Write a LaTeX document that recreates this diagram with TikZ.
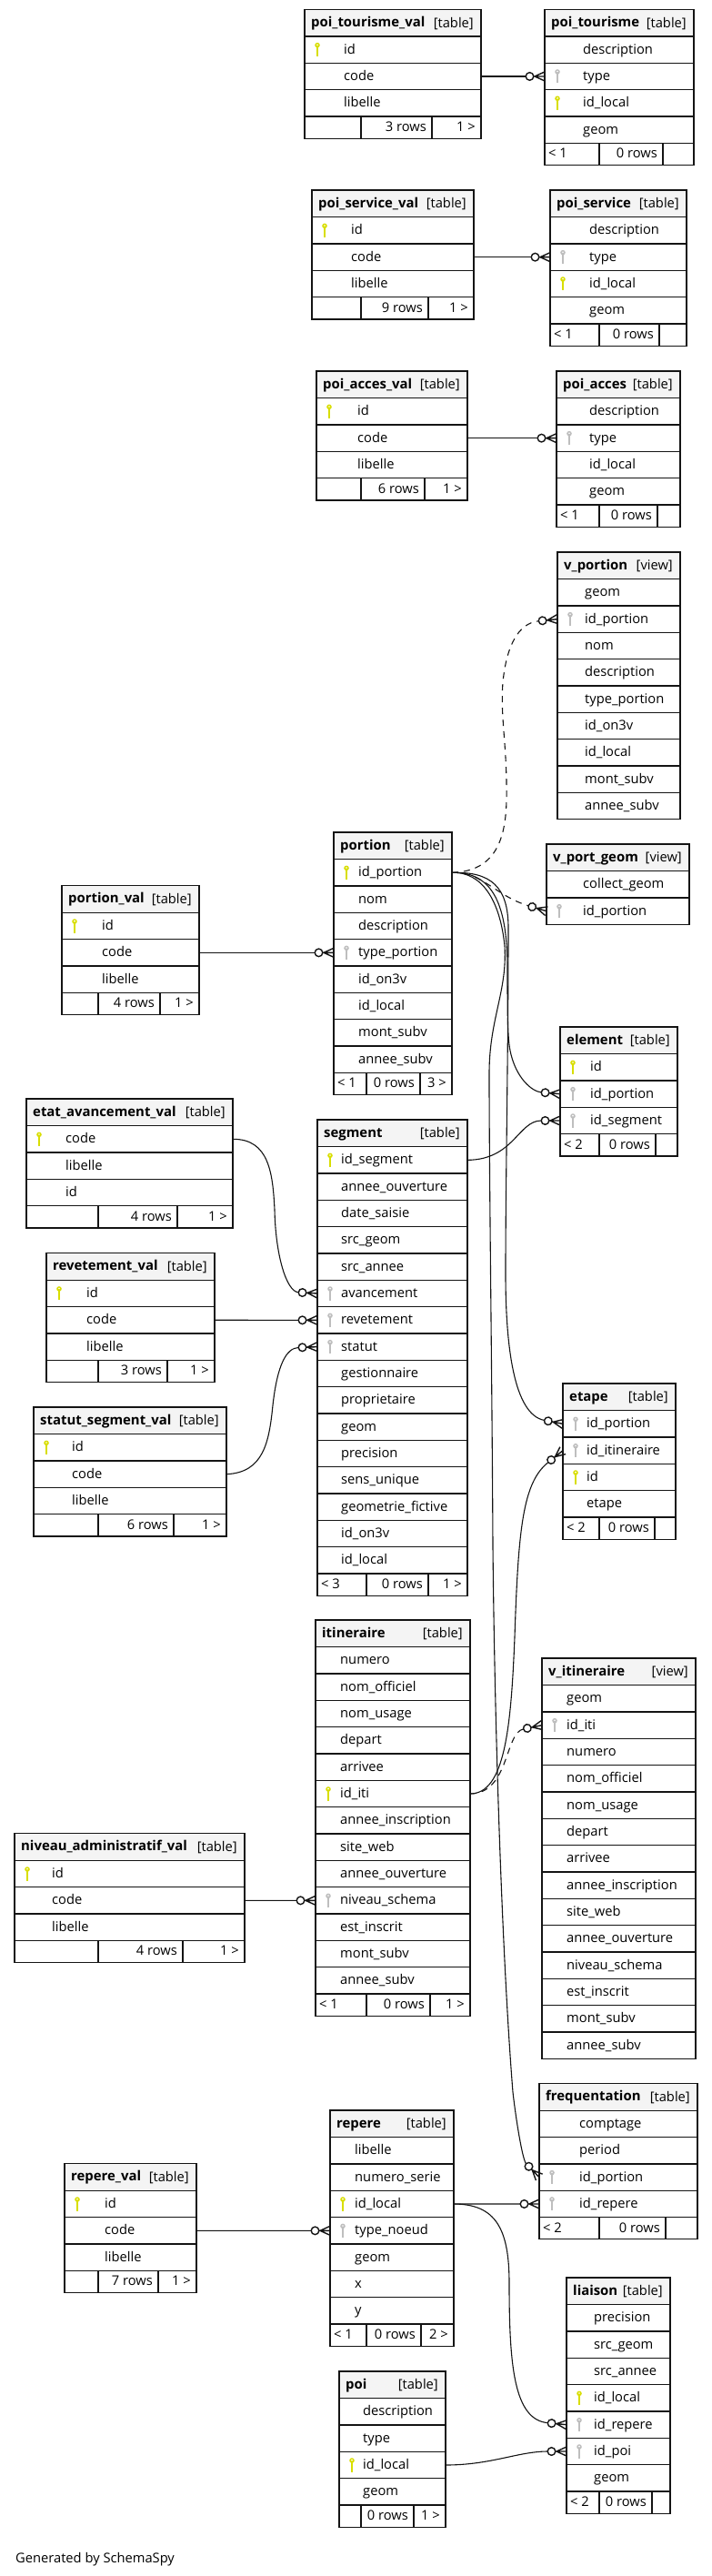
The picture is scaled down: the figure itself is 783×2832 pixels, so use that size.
\documentclass[tikz,border=0pt]{standalone}
\usepackage{fontspec}
\setmainfont{Open Sans}
\usetikzlibrary{arrows.meta}
\catcode`\_=12
\definecolor{KeyYellow}{RGB}{216,222,0}
\definecolor{KeyGrey}{RGB}{190,190,190}
\definecolor{HeadGrey}{RGB}{244,244,244}
\definecolor{LineDark}{RGB}{20,20,20}
\def\headh{29.67}
\def\rowh{29.33}
\def\footh{24.3}
\pgfdeclarearrow{
  name=crowring,
  setup code={
    \pgfarrowssettipend{0pt}
    \pgfarrowssetbackend{-21pt}
    \pgfarrowssetvisualbackend{-21pt}
    \pgfarrowssetlineend{-20.8pt}
  },
  drawing code={
    \pgfsetdash{}{0pt}
    \pgfsetlinewidth{1.4pt}
    \pgfpathmoveto{\pgfpoint{-11pt}{0pt}}
    \pgfpathlineto{\pgfpoint{0pt}{5pt}}
    \pgfpathmoveto{\pgfpoint{-11pt}{0pt}}
    \pgfpathlineto{\pgfpoint{0pt}{-5pt}}
    \pgfpathmoveto{\pgfpoint{-12.2pt}{0pt}}
    \pgfpathlineto{\pgfpoint{0pt}{0pt}}
    \pgfusepathqstroke
    \pgfpathcircle{\pgfpoint{-16.5pt}{0pt}}{4.3pt}
    \pgfusepathqstroke
  }
}
\tikzset{
  dbcell/.style={draw=LineDark, line width=1.15pt, inner sep=0pt, outer sep=0pt},
  headcell/.style={dbcell, fill=HeadGrey, minimum height=\headh pt},
  rowcell/.style={dbcell, minimum height=\rowh pt},
  footcell/.style={dbcell, minimum height=\footh pt},
  fieldtext/.style={anchor=base west, inner sep=0pt, text=black, font=\fontsize{14.7}{16}\selectfont},
  titletext/.style={fieldtext, font=\fontsize{14.9}{16}\selectfont\bfseries},
  kindtext/.style={fieldtext, anchor=base east},
  fkline/.style={draw=LineDark, line width=1.1pt, -crowring},
  fkview/.style={fkline, dash pattern=on 7pt off 6pt},
  dbkey/.pic={
    \draw[line width=2.2pt] (0,-5) -- (0,7.5);
    \fill (0,-5) circle (2.8);
    \fill[white] (0,-5.4) circle (0.9);
  },
}
\newcommand{\keypk}{\pic[color=KeyYellow] at (\tleft+14,\ymid) {dbkey};}
\newcommand{\keyfk}{\pic[color=KeyGrey] at (\tleft+14,\ymid) {dbkey};}
\newcommand{\keyno}{}
% name, title, kind, left, right, top
\newcommand{\dbhead}[6]{
  \def\tname{#1}\def\tleft{#4}\def\tright{#5}\def\ttop{#6}
  \pgfmathsetmacro\twidth{#5-#4}
  \node[headcell, minimum width=\twidth pt] (#1) at ({(#4+#5)/2},{#6+\headh/2}) {};
  \node[titletext] (#1-title) at (#4+7,#6+19) {#2};
  \node[kindtext] (#1-kind) at (#5-8,#6+19.7) {[#3]};
}
% text column, rows as field/keytype
\newcommand{\dbrows}[2]{
  \foreach \fld/\kf [count=\rownum from 0] in {#2} {
    \pgfmathsetmacro\ymid{\ttop+\headh+(\rownum+0.5)*\rowh}
    \node[rowcell, minimum width=\twidth pt] (\tname-\fld) at ({(\tleft+\tright)/2},\ymid) {};
    \node[fieldtext] (\tname-\fld-text) at (#1,\ymid+4.4) {\fld};
    \csname key\kf\endcsname
    \xdef\nrows{\the\numexpr\rownum+1\relax}
  }
}
% two column edges, then the three footer texts
\newcommand{\dbfoot}[5]{
  \pgfmathsetmacro\fy{\ttop+\headh+\nrows*\rowh}
  \pgfmathsetmacro\wa{#1-\tleft}
  \pgfmathsetmacro\wb{#2-#1}
  \pgfmathsetmacro\wc{\tright-#2}
  \node[footcell, minimum width=\wa pt] (\tname-foota) at ({(\tleft+#1)/2},\fy+\footh/2) {};
  \node[footcell, minimum width=\wb pt] (\tname-footb) at ({(#1+#2)/2},\fy+\footh/2) {};
  \node[footcell, minimum width=\wc pt] (\tname-footc) at ({(#2+\tright)/2},\fy+\footh/2) {};
  \node[fieldtext] (\tname-prev) at (\tleft+4,\fy+16.4) {#3};
  \node[fieldtext, anchor=base east] (\tname-count) at (#2-6,\fy+16.4) {#4};
  \node[fieldtext, anchor=base east] (\tname-next) at (\tright-6,\fy+16.4) {#5};
}
\begin{document}
\begin{tikzpicture}[x=1pt, y=-1pt]
  \useasboundingbox (0,0) rectangle (783,2832);

  \dbhead{poi_tourisme_val}{poi_tourisme_val}{table}{335}{529}{10.3}
  \dbrows{378}{id/pk, code/no, libelle/no}
  \dbfoot{397}{475}{}{3 rows}{1 >}
  \dbhead{poi_tourisme}{poi_tourisme}{table}{599}{763}{10.3}
  \dbrows{641}{description/no, type/fk, id_local/pk, geom/no}
  \dbfoot{659}{729}{< 1}{0 rows}{}

  \dbhead{poi_service_val}{poi_service_val}{table}{343}{521}{209}
  \dbrows{386}{id/pk, code/no, libelle/no}
  \dbfoot{397}{471}{}{9 rows}{1 >}
  \dbhead{poi_service}{poi_service}{table}{605}{755}{209}
  \dbrows{648}{description/no, type/fk, id_local/pk, geom/no}
  \dbfoot{659}{725}{< 1}{0 rows}{}

  \dbhead{poi_acces_val}{poi_acces_val}{table}{348}{514}{408}
  \dbrows{393}{id/pk, code/no, libelle/no}
  \dbfoot{397}{467}{}{6 rows}{1 >}
  \dbhead{poi_acces}{poi_acces}{table}{612}{748}{408}
  \dbrows{648}{description/no, type/fk, id_local/no, geom/no}
  \dbfoot{659}{723}{< 1}{0 rows}{}

  \dbhead{v_portion}{v_portion}{view}{613}{748}{607}
  \dbrows{643}{geom/no, id_portion/fk, nom/no, description/no, type_portion/no, id_on3v/no, id_local/no, mont_subv/no, annee_subv/no}

  \dbhead{portion}{portion}{table}{367}{497}{915}
  \dbrows{394}{id_portion/pk, nom/no, description/no, type_portion/fk, id_on3v/no, id_local/no, mont_subv/no, annee_subv/no}
  \dbfoot{403}{462}{< 1}{0 rows}{3 >}
  \dbhead{v_port_geom}{v_port_geom}{view}{601}{758}{928}
  \dbrows{641}{collect_geom/no, id_portion/fk}
  \dbhead{portion_val}{portion_val}{table}{68}{219}{973.66}
  \dbrows{112}{id/pk, code/no, libelle/no}
  \dbfoot{108}{176}{}{4 rows}{1 >}

  \dbhead{element}{element}{table}{616}{745}{1129}
  \dbrows{649}{id/pk, id_portion/fk, id_segment/fk}
  \dbfoot{659}{721}{< 2}{0 rows}{}

  \dbhead{etat_avancement_val}{etat_avancement_val}{table}{29}{256}{1208}
  \dbrows{72}{code/pk, libelle/no, id/no}
  \dbfoot{108}{195}{}{4 rows}{1 >}
  \dbhead{segment}{segment}{table}{349}{514}{1231}
  \dbrows{375}{id_segment/pk, annee_ouverture/no, date_saisie/no, src_geom/no, src_annee/no, avancement/fk, revetement/fk, statut/fk, gestionnaire/no, proprietaire/no, geom/no, precision/no, sens_unique/no, geometrie_fictive/no, id_on3v/no, id_local/no}
  \dbfoot{403}{471}{< 3}{0 rows}{1 >}
  \dbhead{revetement_val}{revetement_val}{table}{51}{236}{1377.6}
  \dbrows{95}{id/pk, code/no, libelle/no}
  \dbfoot{108}{184}{}{3 rows}{1 >}
  \dbhead{statut_segment_val}{statut_segment_val}{table}{37}{249}{1547}
  \dbrows{79}{id/pk, code/no, libelle/no}
  \dbfoot{108}{191}{}{6 rows}{1 >}

  \dbhead{etape}{etape}{table}{619}{743}{1521}
  \dbrows{645}{id_portion/fk, id_itineraire/fk, id/pk, etape/no}
  \dbfoot{659}{720}{< 2}{0 rows}{}

  \dbhead{itineraire}{itineraire}{table}{347}{517}{1781}
  \dbrows{374}{numero/no, nom_officiel/no, nom_usage/no, depart/no, arrivee/no, id_iti/pk, annee_inscription/no, site_web/no, annee_ouverture/no, niveau_schema/fk, est_inscrit/no, mont_subv/no, annee_subv/no}
  \dbfoot{403}{473}{< 1}{0 rows}{1 >}
  \dbhead{v_itineraire}{v_itineraire}{view}{596}{765}{1823}
  \dbrows{623}{geom/no, id_iti/fk, numero/no, nom_officiel/no, nom_usage/no, depart/no, arrivee/no, annee_inscription/no, site_web/no, annee_ouverture/no, niveau_schema/no, est_inscrit/no, mont_subv/no, annee_subv/no}
  \dbhead{niveau_administratif_val}{niveau_administratif_val}{table}{16}{269}{2015.7}
  \dbrows{57}{id/pk, code/no, libelle/no}
  \dbfoot{108}{201}{}{4 rows}{1 >}

  \dbhead{frequentation}{frequentation}{table}{593}{767}{2290.6}
  \dbrows{637}{comptage/no, period/no, id_portion/fk, id_repere/fk}
  \dbfoot{659}{732}{< 2}{0 rows}{}
  \dbhead{repere}{repere}{table}{363}{499}{2320}
  \dbrows{390}{libelle/no, numero_serie/no, id_local/pk, type_noeud/fk, geom/no, x/no, y/no}
  \dbfoot{403}{463}{< 1}{0 rows}{2 >}
  \dbhead{repere_val}{repere_val}{table}{71}{216}{2378.7}
  \dbrows{115}{id/pk, code/no, libelle/no}
  \dbfoot{108}{174}{}{7 rows}{1 >}
  \dbhead{liaison}{liaison}{table}{623}{737}{2504}
  \dbrows{653}{precision/no, src_geom/no, src_annee/no, id_local/pk, id_repere/fk, id_poi/fk, geom/no}
  \dbfoot{659}{717}{< 2}{0 rows}{}
  \dbhead{poi}{poi}{table}{373}{490}{2607}
  \dbrows{399}{description/no, type/no, id_local/pk, geom/no}
  \dbfoot{397}{455}{}{0 rows}{1 >}

  \node[fieldtext] (generated) at (17,2817) {Generated by SchemaSpy};

  % straight links
  \draw[fkline] (poi_tourisme_val-code.east) -- (poi_tourisme-type.west);
  \draw[fkline] (poi_service_val-code.east) -- (poi_service-type.west);
  \draw[fkline] (poi_acces_val-code.east) -- (poi_acces-type.west);
  \draw[fkline] (portion_val-code.east) -- (portion-type_portion.west);
  \draw[fkline] (revetement_val-code.east) -- (segment-revetement.west);
  \draw[fkline] (niveau_administratif_val-code.east) -- (itineraire-niveau_schema.west);
  \draw[fkline] (repere_val-code.east) -- (repere-type_noeud.west);
  \draw[fkline] (repere-id_local.east) -- (frequentation-id_repere.west);

  % links from portion
  \draw[fkview] (portion-id_portion.east) .. controls (540,958) and (556,930) .. (557,880)
    .. controls (558,820) and (550,790) .. (553,750)
    .. controls (557,710) and (570,685) .. (v_portion-id_portion.west);
  \draw[fkview] (portion-id_portion.east) .. controls (530,958) and (545,985) .. (v_port_geom-id_portion.west);
  \draw[fkline] (portion-id_portion.east) .. controls (545,958) and (557,1000) .. (558,1060)
    .. controls (558,1110) and (558,1140) .. (561,1155)
    .. controls (567,1185) and (585,1200) .. (element-id_portion.west);
  \draw[fkline] (portion-id_portion.east) .. controls (540,958) and (559,975) .. (559,1020)
    .. controls (559,1150) and (556,1300) .. (556,1400)
    .. controls (556,1480) and (565,1555) .. (etape-id_portion.west);
  \draw[fkline] (portion-id_portion.east) .. controls (530,958) and (550,990) .. (555,1040)
    .. controls (558,1090) and (538,1120) .. (538,1180)
    .. controls (538,1300) and (541,1500) .. (542,1700)
    .. controls (544,1900) and (552,2150) .. (564,2300)
    .. controls (568,2335) and (575,2375) .. (frequentation-id_portion.west);

  % links into element and segment
  \draw[fkline] (segment-id_segment.east) .. controls (565,1275) and (570,1232) .. (element-id_segment.west);
  \draw[fkline] (etat_avancement_val-code.east) .. controls (296,1252) and (300,1290) .. (302,1330)
    .. controls (303,1380) and (315,1420) .. (segment-avancement.west);
  \draw[fkline] (statut_segment_val-code.east) .. controls (290,1619) and (296,1585) .. (300,1545)
    .. controls (305,1500) and (315,1482) .. (segment-statut.west);

  % links from itineraire
  \draw[fkline] (itineraire-id_iti.east) .. controls (555,1972) and (562,1900) .. (566,1800)
    .. controls (570,1680) and (575,1630) .. (etape-id_itineraire.west);
  \draw[fkview] (itineraire-id_iti.east) .. controls (560,1972) and (555,1905) .. (v_itineraire-id_iti.west);

  % links to liaison
  \draw[fkline] (repere-id_local.east) .. controls (545,2423) and (560,2450) .. (560,2510)
    .. controls (560,2600) and (565,2660) .. (liaison-id_repere.west);
  \draw[fkline] (poi-id_local.east) .. controls (540,2710) and (570,2695) .. (liaison-id_poi.west);
\end{tikzpicture}
\end{document}
